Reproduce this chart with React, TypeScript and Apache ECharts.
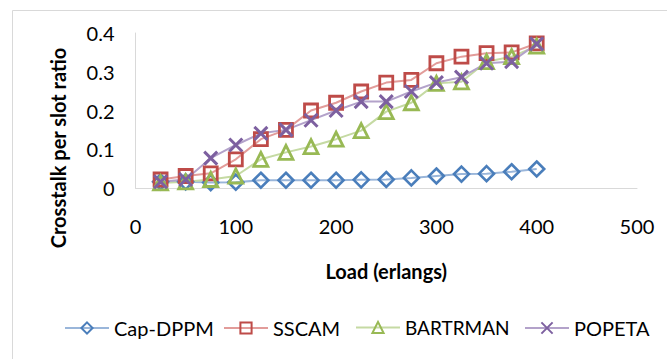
import React, { useEffect, useRef } from "react";
import * as echarts from "echarts";

const loads = [25, 50, 75, 100, 125, 150, 175, 200, 225, 250, 275, 300, 325, 350, 375, 400];
const capDppm = [0.016, 0.016, 0.014, 0.015, 0.02, 0.02, 0.02, 0.02, 0.021, 0.022, 0.026, 0.031, 0.036, 0.037, 0.042, 0.049];
const sscam = [0.022, 0.031, 0.038, 0.074, 0.126, 0.15, 0.2, 0.22, 0.249, 0.272, 0.279, 0.322, 0.339, 0.348, 0.35, 0.373];
const bartrman = [0.013, 0.016, 0.022, 0.031, 0.074, 0.092, 0.107, 0.126, 0.148, 0.197, 0.22, 0.27, 0.274, 0.326, 0.339, 0.366];
const popeta = [0.016, 0.022, 0.077, 0.111, 0.141, 0.15, 0.175, 0.2, 0.223, 0.223, 0.249, 0.272, 0.286, 0.322, 0.326, 0.372];

const seriesNames = ["Cap-DPPM", "SSCAM", "BARTRMAN", "POPETA"];
const xTitle = "Load (erlangs)";
const yTitle = "Crosstalk per slot ratio";

const FONT = "Lato";

export default function App() {
  const ref = useRef<HTMLDivElement>(null);
  useEffect(() => {
    if (!ref.current) return;
    const chart = echarts.init(ref.current, undefined, { renderer: "svg" });
    const pair = (ys: number[]) => loads.map((x, i) => [x, ys[i]]);
    const mk = (
      name: string,
      ys: number[],
      symbol: string,
      size: number,
      marker: string,
      line: string,
      bw: number
    ) => ({
      name,
      type: "line",
      data: pair(ys),
      symbol,
      symbolSize: size,
      showAllSymbol: true,
      lineStyle: { color: line, width: 2 },
      itemStyle: { color: "rgba(255,255,255,0)", borderColor: marker, borderWidth: bw },
      emphasis: { disabled: true },
    });
    const legendAt = (name: string, left: number, fs: number) => ({
      data: [name],
      left,
      top: 313,
      itemWidth: 44,
      itemHeight: 14,
      textStyle: { fontFamily: FONT, fontSize: fs, color: "#000" },
    });
    chart.setOption({
      animation: false,
      backgroundColor: "#fff",
      grid: { left: 135.5, top: 33, width: 501.5, height: 155, containLabel: false },
      xAxis: {
        type: "value",
        min: 0,
        max: 500,
        interval: 100,
        axisLine: { show: true, lineStyle: { color: "#D9D9D9", width: 1 } },
        axisTick: { show: false },
        splitLine: { show: false },
        axisLabel: { margin: 28, fontFamily: FONT, fontSize: 20, color: "#000" },
        name: xTitle,
        nameLocation: "middle",
        nameGap: 73,
        nameTextStyle: { fontFamily: FONT, fontSize: 20, fontWeight: "bold", color: "#000" },
      },
      yAxis: {
        type: "value",
        min: 0,
        max: 0.4,
        interval: 0.1,
        axisLine: { show: true, lineStyle: { color: "#D9D9D9", width: 1 } },
        axisTick: { show: false },
        splitLine: { show: false },
        axisLabel: { margin: 21, fontFamily: FONT, fontSize: 20, color: "#000" },
      },
      legend: [
        legendAt(seriesNames[0], 59, 20),
        legendAt(seriesNames[1], 218, 20),
        legendAt(seriesNames[2], 350, 19),
        legendAt(seriesNames[3], 519, 20),
      ],
      graphic: [
        {
          type: "rect",
          shape: { x: 12.5, y: 10.5, width: 800, height: 500 },
          style: { fill: "none", stroke: "#D9D9D9", lineWidth: 1 },
          silent: true,
          z: -10,
        },
        {
          type: "text",
          x: 58,
          y: 148,
          rotation: Math.PI / 2,
          style: {
            text: yTitle,
            font: `bold 20px ${FONT}`,
            fill: "#000",
            textAlign: "center",
            textVerticalAlign: "middle",
          },
        },
      ],
      series: [
        mk(seriesNames[0], capDppm, "diamond", 15, "#4A7EBB", "#9AB6DA", 2.6),
        mk(seriesNames[1], sscam, "rect", 13, "#BE4B48", "#E29C9A", 2.8),
        mk(seriesNames[2], bartrman, "triangle", 14, "#98B954", "#C5DAA3", 2.8),
        mk(seriesNames[3], popeta, "path://M0 0L10 10M10 0L0 10", 13, "#7D60A0", "#B3A2CA", 3),
      ],
    });
    return () => chart.dispose();
  }, []);
  return (
    <div
      ref={ref}
      style={{ position: "fixed", left: 0, top: 0, width: 667, height: 359, background: "#fff" }}
    />
  );
}
